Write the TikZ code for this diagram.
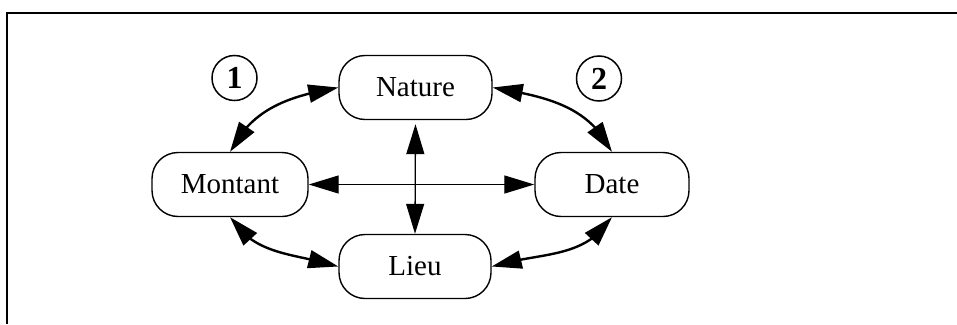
\documentclass[tikz,border=0pt]{standalone}
\usepackage{fontspec}
\setmainfont{Liberation Serif}
\usetikzlibrary{arrows.meta,bending}

\tikzset{
  field/.style={draw, line width=1.4pt, rounded corners=26pt,
    minimum width=153pt, minimum height=64pt, inner sep=0pt,
    font=\fontsize{29}{32}\selectfont},
  badge/.style={draw, circle, line width=1.5pt, minimum size=45pt, inner sep=0pt,
    font=\bfseries\fontsize{32}{34}\selectfont},
  tip/.tip={Triangle[length=30pt,width=18pt]},
  link/.style={line width=2.4pt, tip-tip},
  axis/.style={line width=1.3pt, tip-tip},
  frameline/.style={line width=2pt}
}

\begin{document}
\begin{tikzpicture}[x=1pt,y=-1pt]
  \useasboundingbox (0,0) rectangle (957,324);

  % open frame: top and left edges
  \coordinate (ftl) at (7,13);
  \coordinate (ftr) at (957,13);
  \coordinate (fbl) at (7,324);
  \draw[frameline] (ftr) -- (ftl) -- (fbl);

  % the four fields
  \node[field] (nature)  at (415.5,87.5)  {Nature};
  \node[field, minimum width=156pt] (montant) at (230,184.5) {Montant};
  \node[field, minimum width=154pt] (date)    at (612,184.5) {Date};
  \node[field, minimum width=152pt] (lieu)    at (415,266.5) {Lieu};

  % numbered badges
  \node[badge] (b1) at (234.5,78) {1};
  \node[badge] (b2) at (599,78.5) {2};

  % curved links around the ring
  \draw[link] (nature.west) to[out=190,in=63] (montant.north);
  \draw[link] (nature.east) to[out=-10,in=117] (date.north);
  \draw[link] (montant.south) to[out=-57,in=163] (lieu.west);
  \draw[link] (date.south) to[out=-123,in=17] (lieu.east);

  % straight cross links
  \draw[axis] (montant.east) -- (date.west);
  \draw[axis, shorten <=4pt] (nature.south) -- (lieu.north);
\end{tikzpicture}
\end{document}
